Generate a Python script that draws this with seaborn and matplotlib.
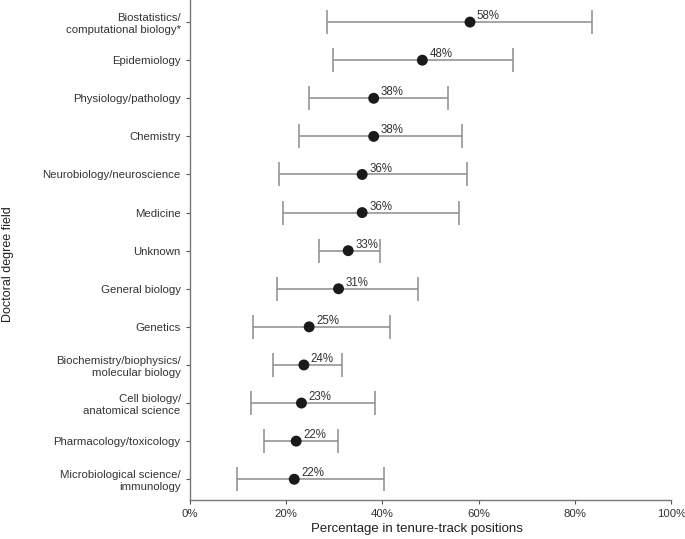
import numpy as np
import pandas as pd
import matplotlib
matplotlib.use("Agg")
import matplotlib.pyplot as plt
import seaborn as sns

# -------------------------
# Data
# -------------------------
fields = [
    "Biostatistics/\ncomputational biology*",
    "Epidemiology",
    "Physiology/pathology",
    "Chemistry",
    "Neurobiology/neuroscience",
    "Medicine",
    "Unknown",
    "General biology",
    "Genetics",
    "Biochemistry/biophysics/\nmolecular biology",
    "Cell biology/\nanatomical science",
    "Pharmacology/toxicology",
    "Microbiological science/\nimmunology",
]
pct = [58.2, 48.3, 38.2, 38.2, 35.8, 35.8, 32.9, 30.9, 24.8, 23.7, 23.2, 22.1, 21.7]
lower = [28.5, 29.8, 24.8, 22.7, 18.6, 19.4, 26.8, 18.1, 13.2, 17.3, 12.7, 15.5, 9.8]
upper = [83.6, 67.2, 53.6, 56.5, 57.5, 55.9, 39.5, 47.3, 41.5, 31.6, 38.4, 30.7, 40.4]
pct_labels = ["58%", "48%", "38%", "38%", "36%", "36%", "33%", "31%", "25%",
              "24%", "23%", "22%", "22%"]

df = pd.DataFrame({"field": fields, "pct": pct, "lower": lower, "upper": upper})
df["pos"] = np.arange(len(df))

# -------------------------
# Plot
# -------------------------
sns.set_style("ticks")
plt.rcParams["font.family"] = ["Liberation Sans", "DejaVu Sans"]

fig = plt.figure(figsize=(6.85, 5.39), dpi=100)
ax = fig.add_axes([0.277, 0.072, 0.703, 0.928])

ax.errorbar(df["pct"], df["pos"],
            xerr=[df["pct"] - df["lower"], df["upper"] - df["pct"]],
            fmt="none", ecolor="#8c8c8c", elinewidth=1.1,
            capsize=8.5, capthick=1.1, zorder=1)
sns.scatterplot(data=df, x="pct", y="pos", s=62, color="#1a1a1a",
                edgecolor="none", ax=ax, zorder=2)

for p, y, lab in zip(df["pct"], df["pos"], pct_labels):
    ax.annotate(lab, (p, y), xytext=(5, 4.3), textcoords="offset points",
                fontsize=8.3, color="#333333", ha="left", va="center")

ax.set_xlim(0, 100)
ax.set_ylim(len(df) - 0.45, -0.58)
ax.set_xticks([0, 20, 40, 60, 80, 100])
ax.set_xticklabels(["0%", "20%", "40%", "60%", "80%", "100%"])
ax.set_yticks(df["pos"])
ax.set_yticklabels(df["field"], linespacing=1.2)
ax.tick_params(axis="both", labelsize=8.2, colors="#555555", labelcolor="#333333",
               length=3, width=0.8)

ax.set_xlabel("Percentage in tenure-track positions", fontsize=9.5, color="#222222")
ax.set_ylabel("Doctoral degree field", fontsize=9, color="#222222")
ax.xaxis.set_label_coords(0.472, -0.046)
ax.yaxis.set_label_coords(-0.364, 0.472)

sns.despine(ax=ax)
for s in ["left", "bottom"]:
    ax.spines[s].set_color("#777777")
    ax.spines[s].set_linewidth(1.0)

fig.savefig("out.png", dpi=100)
